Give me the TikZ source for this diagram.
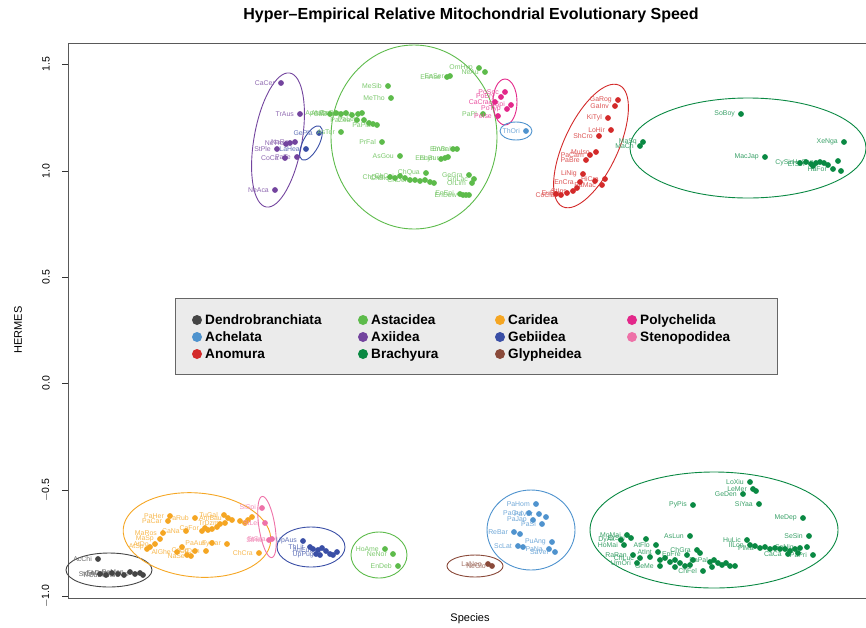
\documentclass[tikz,border=0pt]{standalone}
\usepackage{fontspec}
\setmainfont{Liberation Sans}
\begin{document}
\begin{tikzpicture}[x=1pt,y=-1pt,
  lab/.style={font=\fontsize{6.9}{7}\selectfont,inner sep=0pt,anchor=east},
  legtxt/.style={font=\fontsize{13.6}{14}\bfseries\selectfont,inner sep=0pt,anchor=base west},
  ell/.style={line width=0.9pt},
  ticklab/.style={font=\fontsize{10.5}{11}\selectfont,rotate=90,inner sep=0pt}]
\definecolor{cden}{HTML}{454545}
\definecolor{cast}{HTML}{5DBB4B}
\definecolor{ccar}{HTML}{F5A623}
\definecolor{cpol}{HTML}{E3288A}
\definecolor{cach}{HTML}{4F93CE}
\definecolor{caxi}{HTML}{73449E}
\definecolor{cgeb}{HTML}{3A4FA6}
\definecolor{cbra}{HTML}{0A8943}
\definecolor{cste}{HTML}{EE72A8}
\definecolor{cano}{HTML}{D32A2A}
\definecolor{cgly}{HTML}{8A4A3A}
\newcommand\grp[2]{%
  \foreach \x/\y/\l in {#2}{\node[lab,text=#1!80] at (\x-6,\y) {\l};}%
  \foreach \x/\y/\l in {#2}{\fill[#1] (\x,\y) circle (2.9);}}
\useasboundingbox (0,0) rectangle (866,627);
% title and axes
\node[font=\fontsize{16}{17}\bfseries\selectfont] (title) at (471,15) {Hyper\textendash Empirical Relative Mitochondrial Evolutionary Speed};
\node[font=\fontsize{11}{12}\selectfont,rotate=90] (ylab) at (18,330) {HERMES};
\node[font=\fontsize{11}{12}\selectfont] (xlab) at (470,619) {Species};
\draw[line width=0.9pt,black!65] (870,43) -- (68,43) -- (68,598) -- (870,598);
\foreach \v/\yy in {1.5/64,1.0/171,0.5/277,0.0/383,{$-$0.5}/490,{$-$1.0}/596}{
  \draw[black!80] (62,\yy) -- (68,\yy);
  \node[ticklab] at (46,\yy) {\v};}
% ellipses
\draw[ell,caxi,rotate around={-10:(278,140)}] (278,140) ellipse [x radius=24,y radius=68];
\draw[ell,cgeb,rotate around={-28:(311,143)}] (311,143) ellipse [x radius=8,y radius=19];
\draw[ell,cast] (414,137) ellipse [x radius=83,y radius=92];
\draw[ell,cpol] (505,102) ellipse [x radius=12,y radius=23];
\draw[ell,cach] (516,131) ellipse [x radius=16,y radius=9];
\draw[ell,cano,rotate around={-25:(591,146)}] (591,146) ellipse [x radius=27,y radius=67];
\draw[ell,cbra] (748,148) ellipse [x radius=118,y radius=50];
\draw[ell,cden] (109,570) ellipse [x radius=43,y radius=17];
\draw[ell,ccar,rotate around={-5:(197,535)}] (197,535) ellipse [x radius=74,y radius=42];
\draw[ell,cste,rotate around={9:(267,527)}] (267,527) ellipse [x radius=8,y radius=31];
\draw[ell,cgeb] (311,547) ellipse [x radius=34,y radius=20];
\draw[ell,cast] (379,555) ellipse [x radius=28,y radius=23];
\draw[ell,cgly] (475,566) ellipse [x radius=28,y radius=11];
\draw[ell,cach] (531,530) ellipse [x radius=44,y radius=40];
\draw[ell,cbra] (714,530) ellipse [x radius=124,y radius=58];
% points
\grp{caxi}{281/83/CaCer,300/114/TrAus,290/143/NeTre,295/142/NaRe,286/144/{},277/149/StPle,285/158/CoCa,297/157/PaTe,275/190/NeAca}
\grp{cgeb}{319/133/GePla,306/149/LaHea}
\grp{cast}{479/68/OmHyp,485/72/NeAu,447/77/EnAse,450/76/EnSer,388/86/MeSib,391/98/MeTho,
 330/114/ApAst,336/113/AsPar,341/114/CaDes,346/113/CePar,352/115/{},358/114/AsAst,362/113/{},357/120/PaZea,364/120/PaLep,369/123/{},373/124/{},377/125/PaPla,
 341/132/AsTor,382/142/PrFal,400/156/AsGou,453/149/EnVir,457/149/EnBal,441/159/EnLyn,445/158/EnBur,448/157/{},426/173/ChQua,
 390/177/ChDes,395/178/ChBic,400/176/ChCai,405/178/{},410/180/{},415/180/ChDen,420/181/{},425/180/{},430/182/{},434/183/{},
 469/175/GeGra,474/179/GnLac,472/183/OrLim,460/194/EnEpi,463/195/EnDow,466/195/{},469/195/{},483/114/PaPl}
\grp{cpol}{505/92/PoSoc,501/97/PoEry,495/102/CaCra,511/105/StSpi,507/109/PoTyp,498/116/PeIse}
\grp{cach}{526/131/ThOri}
\grp{cano}{618/100/GaRog,615/106/GaInv,608/118/KiTyl,611/130/LoHir,599/136/ShCro,596/152/MuIso,590/155/PaCam,586/160/PaBre,
 583/174/LiNig,605/179/HiCra,580/182/EnCra,595/181/{},602/185/PaMac,577/188/{},573/191/StIns,567/193/EuBre,561/195/CoCla,556/194/{}}
\grp{cbra}{741/114/SoBoy,643/142/MaSq,640/146/MaCh,844/142/XeNga,765/157/MacJap,800/163/CySin,806/162/{},811/164/ErSin,816/163/{},820/162/HeSan,824/163/{},828/165/{},838/161/{},833/169/HaFor,841/171/{},813/166/{}}
\grp{cden}{98/559/AcChi,100/574/SiCri,106/575/TrCur,112/573/FeCar,118/574/MaJap,124/575/PeVan,130/572/PeMon,135/574/LiVan,140/573/{},143/575/{}}
\grp{ccar}{170/516/PaHer,168/521/PaCar,195/518/PaRub,224/515/TuGal,228/518/AmBau,232/520/{},225/523/TrDzm,220/524/{},217/527/{},212/529/{},208/530/{},205/528/CaFor,202/531/{},240/521/{},245/523/{},248/520/{},252/517/{},
 163/533/MaRos,160/539/MaSp,155/544/AtDo,150/547/AtSp,147/549/{},186/531/CaNa,212/543/PaAus,227/544/FyCar,206/551/CrDen,195/551/CaSp,191/556/NaSe,187/555/{},177/552/AlGhe,182/547/{},259/553/ChCra}
\grp{cste}{262/508/SiSpi,265/523/StLei,269/540/StHis,272/539/StSca}
\grp{cgeb}{303/541/UpAus,310/547/ThLit,313/549/{},318/550/AuEur,322/548/{},326/551/{},330/554/{},333/555/{},337/552/{},316/554/{},320/555/UpPug}
\grp{cast}{385/549/HoAme,393/554/NeNor,398/566/EnDeb}
\grp{cach}{536/504/PaHom,529/513/PaGut,539/514/PaVer,546/517/{},533/520/PaJap,542/524/PaSi,514/532/ReBar,520/534/{},518/546/ScLat,523/547/{},552/542/PuAng,549/549/PaNa,555/552/SaVer}
\grp{cgly}{488/564/LaNeo,492/566/NeGlo}
\grp{cbra}{750/482/LoXiu,753/489/LeMer,756/491/{},743/494/GeDen,759/504/SiYaa,693/505/PyPis,803/518/MeDep,809/536/SeSin,690/536/AsLun,747/540/HuLic,
 627/535/MoMai,621/540/DyAk,631/538/ErSoi,624/545/HoMai,646/539/{},656/545/AtFlo,
 750/545/IlLon,755/546/{},760/548/PlMa,765/547/{},770/549/{},775/548/{},780/549/{},785/549/{},790/551/{},795/549/{},800/548/SaNig,807/547/{},788/554/CaCa,798/553/{},813/555/PaPri,
 633/555/RaRan,640/558/ChLuc,637/563/UmOri,658/552/AtInt,650/557/{},660/560/{},665/558/{},670/562/{},675/560/{},697/550/ChGra,700/553/{},687/555/EpFre,693/560/{},680/563/{},685/566/{},
 714/560/BaPal,710/562/{},718/563/{},722/565/{},726/563/{},730/566/{},735/566/{},703/571/ChFel,690/565/{},712/567/{},660/566/GeMe,675/567/{}}
% legend
\draw[fill=black!8,draw=black!60,line width=0.8pt] (175,298) rectangle (777,374);
\foreach \c/\xx/\yy/\t in {cden/197/320/Dendrobranchiata,cach/197/337/Achelata,cano/197/354/Anomura,
  cast/363/320/Astacidea,caxi/363/337/Axiidea,cbra/363/354/Brachyura,
  ccar/500/320/Caridea,cgeb/500/337/Gebiidea,cgly/500/354/Glypheidea,
  cpol/632/320/Polychelida,cste/632/337/Stenopodidea}{
  \fill[\c] (\xx,\yy) circle (5);
  \node[legtxt] at (\xx+8,\yy+4.8) {\t};}
\end{tikzpicture}
\end{document}
